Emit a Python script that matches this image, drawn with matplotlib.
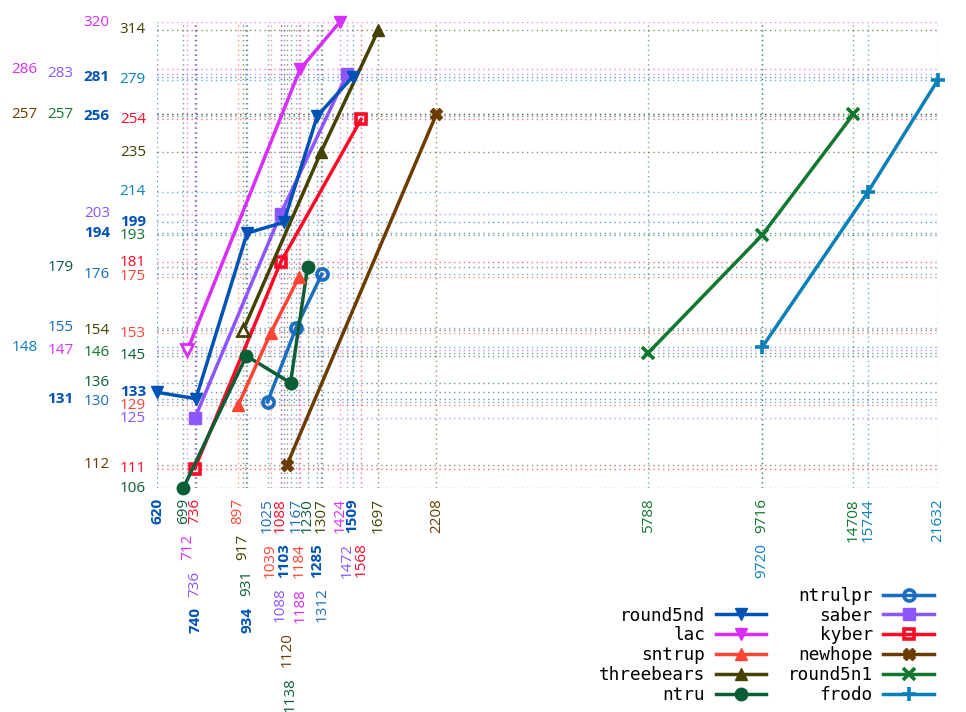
import matplotlib
matplotlib.use("Agg")
import matplotlib.pyplot as plt
from matplotlib.lines import Line2D
from matplotlib.ticker import NullLocator


# ---------------------------------------------------------------------
# Data
# ---------------------------------------------------------------------
series_names = [
    "round5nd", "lac", "sntrup", "threebears", "ntru",
    "ntrulpr", "saber", "kyber", "newhope", "round5n1", "frodo",
]

round5nd_x = [620, 740, 934, 1103, 1285, 1509]
round5nd_y = [133, 131, 194, 199, 256, 281]
lac_x = [712, 1188, 1424]
lac_y = [147, 286, 320]
sntrup_x = [897, 1039, 1184]
sntrup_y = [129, 153, 175]
threebears_x = [917, 1307, 1697]
threebears_y = [154, 235, 314]
ntru_x = [699, 931, 1138, 1230]
ntru_y = [106, 145, 136, 179]
ntrulpr_x = [1025, 1167, 1312]
ntrulpr_y = [130, 155, 176]
saber_x = [736, 1088, 1472]
saber_y = [125, 203, 283]
kyber_x = [736, 1088, 1568]
kyber_y = [111, 181, 254]
newhope_x = [1120, 2208]
newhope_y = [112, 257]
round5n1_x = [5788, 9716, 14708]
round5n1_y = [146, 193, 257]
frodo_x = [9720, 15744, 21632]
frodo_y = [148, 214, 279]

data = {
    "round5nd": (round5nd_x, round5nd_y),
    "lac": (lac_x, lac_y),
    "sntrup": (sntrup_x, sntrup_y),
    "threebears": (threebears_x, threebears_y),
    "ntru": (ntru_x, ntru_y),
    "ntrulpr": (ntrulpr_x, ntrulpr_y),
    "saber": (saber_x, saber_y),
    "kyber": (kyber_x, kyber_y),
    "newhope": (newhope_x, newhope_y),
    "round5n1": (round5n1_x, round5n1_y),
    "frodo": (frodo_x, frodo_y),
}

# ---------------------------------------------------------------------
# Styles
# ---------------------------------------------------------------------
colors = {
    "round5nd": "#0052b4",
    "lac": "#d92ef7",
    "sntrup": "#ff4433",
    "threebears": "#454200",
    "ntru": "#0a5e36",
    "ntrulpr": "#1b6dc0",
    "saber": "#8c55ff",
    "kyber": "#ff0a26",
    "newhope": "#6b3c00",
    "round5n1": "#11772e",
    "frodo": "#0a80b8",
}

markers = {
    "round5nd": ("v", 9, True),
    "lac": ("v", 9, True),
    "sntrup": ("^", 9, True),
    "threebears": ("^", 9, True),
    "ntru": ("o", 9, True),
    "ntrulpr": ("o", 8, False),
    "saber": ("s", 8.5, True),
    "kyber": ("s", 7.5, False),
    "newhope": ("X", 8.5, True),
    "round5n1": ("x", 9, True),
    "frodo": ("+", 10, True),
}

hollow_first = ["lac", "threebears"]
bold_labels = ["round5nd"]

# drawing / label stacking order
draw_order = series_names[::-1]

label_font = "Open Sans"
label_size = 11

fig = plt.figure(figsize=(9.66, 7.12), dpi=100)
ax = fig.add_axes([157 / 966, 1 - 488 / 712, (938 - 157) / 966, (488 - 22) / 712])
ax.set_xscale("log")
ax.set_yscale("log")

all_x = [v for n in series_names for v in data[n][0]]
all_y = [v for n in series_names for v in data[n][1]]
ax.set_xlim(min(all_x), max(all_x))
ax.set_ylim(min(all_y), max(all_y))
ax.set_xticks([])
ax.set_yticks([])
ax.xaxis.set_minor_locator(NullLocator())
ax.yaxis.set_minor_locator(NullLocator())
for sp in ax.spines.values():
    sp.set_visible(False)

# dotted guide lines at each value
for name in draw_order:
    xs, ys = data[name]
    for v in xs:
        ax.axvline(v, color=colors[name], ls=(0, (1, 2.5)), lw=1.0, alpha=0.6, zorder=0)
    for v in ys:
        ax.axhline(v, color=colors[name], ls=(0, (1, 2.5)), lw=1.0, alpha=0.6, zorder=0)

handles = {}
for z, name in enumerate(draw_order):
    xs, ys = data[name]
    mk, ms, filled = markers[name]
    line, = ax.plot(
        xs, ys,
        color=colors[name],
        lw=2.5,
        marker=mk,
        ms=ms,
        mew=2.6 if not filled or mk in "x+" else 1.0,
        mfc=colors[name] if filled else "none",
        clip_on=False,
        zorder=3 + z,
        label=name,
    )
    handles[name] = line
    if name in hollow_first:
        ax.plot(xs[:1], ys[:1], ls="none", marker=mk, ms=ms - 1, mew=2.0,
                mec=colors[name], mfc="white", clip_on=False, zorder=3 + z)

# ---------------------------------------------------------------------
# Staggered value labels
# ---------------------------------------------------------------------
fig.canvas.draw()
renderer = fig.canvas.get_renderer()
pt = 72 / fig.dpi
thr = 10.8
gap = 10.0
tol = 1.5


def stack(items, pos_fn, length_fn, start):
    placed = []
    out = []
    for item in items:
        p = pos_fn(item)
        length = length_fn(item)
        conflicts = [q for q in placed if abs(q[0] - p) < thr]
        candidates = sorted([start] + [q[2] + gap for q in conflicts])
        for c in candidates:
            ok = all(
                not (c < q[2] + gap - tol and c + length + gap - tol > q[1])
                for q in conflicts
            )
            if ok:
                break
        placed.append((p, c, c + length))
        out.append(c)
    return out


rank = {n: i for i, n in enumerate(draw_order)}
x_items = sorted(
    [(v, n) for n in series_names for v in data[n][0]],
    key=lambda t: (t[0], rank[t[1]]),
)
y_items = sorted(
    [(v, n) for n in series_names for v in data[n][1]],
    key=lambda t: (t[0], rank[t[1]]),
)

x_anns = []
for v, n in x_items:
    a = ax.annotate(
        str(v), xy=(v, 0), xycoords=("data", "axes fraction"),
        xytext=(0, 0), textcoords="offset points",
        rotation=90, ha="center", va="top",
        fontsize=label_size, family=label_font, color=colors[n],
        fontweight="bold" if n in bold_labels else "normal",
        annotation_clip=False,
    )
    x_anns.append(a)

y_anns = []
for v, n in y_items:
    a = ax.annotate(
        str(v), xy=(0, v), xycoords=("axes fraction", "data"),
        xytext=(0, 0), textcoords="offset points",
        ha="right", va="center",
        fontsize=label_size, family=label_font, color=colors[n],
        fontweight="bold" if n in bold_labels else "normal",
        annotation_clip=False,
    )
    y_anns.append(a)

fig.canvas.draw()
x_len = [a.get_window_extent(renderer).height for a in x_anns]
y_len = [a.get_window_extent(renderer).width for a in y_anns]

x_off = stack(
    list(range(len(x_items))),
    lambda i: ax.transData.transform((x_items[i][0], 200))[0],
    lambda i: x_len[i],
    10.0,
)
for a, off in zip(x_anns, x_off):
    a.xyann = (0, -off * pt)

y_off = stack(
    list(range(len(y_items))),
    lambda i: ax.transData.transform((1000, y_items[i][0]))[1],
    lambda i: y_len[i],
    11.0,
)
for a, off in zip(y_anns, y_off):
    a.xyann = (-off * pt, 0)

# ---------------------------------------------------------------------
# Legend
# ---------------------------------------------------------------------
blank = Line2D([], [], ls="none", marker="none")
leg_handles = [blank] + [handles[n] for n in series_names]
leg_labels = [" "] + series_names
ax.legend(
    leg_handles, leg_labels,
    ncol=2,
    loc="upper right",
    bbox_to_anchor=(943 / 966, 1 - 578 / 712),
    bbox_transform=fig.transFigure,
    frameon=False,
    markerfirst=False,
    prop={"family": "DejaVu Sans Mono", "size": 12.8},
    handlelength=2.85,
    handletextpad=0.6,
    columnspacing=1.2,
    labelspacing=0.1,
    borderpad=0.0,
)

fig.savefig("out.png", dpi=100, facecolor="white")
